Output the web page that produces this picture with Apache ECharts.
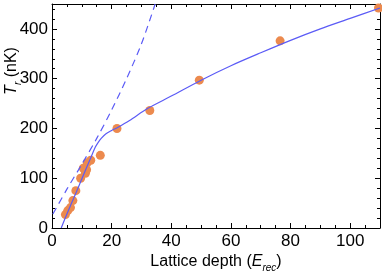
<!DOCTYPE html>
<html>
<head>
<meta charset="utf-8">
<script src="https://cdn.jsdelivr.net/npm/echarts@6/dist/echarts.min.js"></script>
<style>
html,body{margin:0;padding:0;background:#fff;}
#c{width:382px;height:278px;}
</style>
</head>
<body>
<div id="c"></div>
<script>
// Measured data points (lattice depth, temperature)
const depthPts = [4.5, 5.3, 6.2, 7.0, 8.0, 9.6, 10.5, 11.2, 11.6, 11.8, 13.0, 16.2, 21.8, 32.8, 49.4, 76.5, 109.5];
const tempPts  = [27, 35, 41, 55, 75, 100, 120, 110, 117, 131, 136, 146, 200, 236, 297, 376, 442];

// Solid model curve
const solidX = [3.1, 5, 8, 11, 13, 14.5, 15.5, 16.5, 18, 20, 22, 26, 32, 40, 50, 60, 70, 80, 90, 100, 110];
const solidY = [0, 28, 70, 113, 141, 162, 172, 180, 189, 196, 202, 216, 240, 265, 297, 326, 352, 377, 400, 421, 442];

// Dashed model curve
const dashX = [0.3, 5, 10, 15, 20, 25, 30, 34.6];
const dashY = [28, 78, 128, 180, 237, 300, 370, 450];

const xTicks = {min: 0, max: 110, interval: 20};
const yTicks = {min: 0, max: 450, interval: 100};

const zip = (a, b) => a.map((v, i) => [v, b[i]]);
const font = 'Liberation Sans, Arial, Helvetica, sans-serif';

const axLine = {show: true, onZero: false, lineStyle: {color: '#000', width: 1}};
const axTick = {show: true, inside: true, length: 5, lineStyle: {color: '#000', width: 1}};
const subRich = {
  n: {fontSize: 16, fontFamily: font, color: '#000', lineHeight: 22, verticalAlign: 'middle'},
  i: {fontSize: 16, fontStyle: 'italic', fontFamily: font, color: '#000', lineHeight: 22, verticalAlign: 'middle'},
  sub: {fontSize: 10, fontStyle: 'italic', fontFamily: font, color: '#000', verticalAlign: 'bottom', lineHeight: 22}
};

const chart = echarts.init(document.getElementById('c'), null, {renderer: 'canvas'});
chart.setOption({
  animation: false,
  grid: {left: 52, right: 2, top: 4, bottom: 50, containLabel: false, outerBoundsMode: 'none'},
  xAxis: [
    {
      type: 'value', position: 'bottom', min: xTicks.min, max: xTicks.max, interval: xTicks.interval,
      axisLine: axLine, axisTick: axTick, splitLine: {show: false},
      minorTick: {show: true, splitNumber: 4, length: 3, lineStyle: {color: '#000'}},
      axisLabel: {color: '#000', fontSize: 17, fontFamily: font, margin: 5, showMaxLabel: false},
      name: '{n|Lattice depth (}{i|E}{sub|rec}{n|)}',
      nameLocation: 'middle', nameGap: 23, nameMoveOverlap: false,
      nameTextStyle: {color: '#000', fontSize: 16, fontFamily: font, rich: subRich}
    },
    {
      type: 'value', position: 'top', min: xTicks.min, max: xTicks.max, interval: xTicks.interval,
      axisLine: axLine, axisTick: axTick, splitLine: {show: false},
      minorTick: {show: true, splitNumber: 4, length: 3, lineStyle: {color: '#000'}},
      axisLabel: {show: false}
    }
  ],
  yAxis: [
    {
      type: 'value', position: 'left', min: yTicks.min, max: yTicks.max, interval: yTicks.interval,
      axisLine: axLine, axisTick: axTick, splitLine: {show: false},
      minorTick: {show: true, splitNumber: 5, length: 3, lineStyle: {color: '#000'}},
      axisLabel: {color: '#000', fontSize: 17, fontFamily: font, margin: 4, showMaxLabel: false},
      name: '{i|T}{sub|r}{n| (nK)}',
      nameLocation: 'middle', nameGap: 29, nameRotate: 90, nameMoveOverlap: false,
      nameTextStyle: {color: '#000', fontSize: 16, fontFamily: font, rich: subRich, padding: [0, 0, 0, 90]}
    },
    {
      type: 'value', position: 'right', min: yTicks.min, max: yTicks.max, interval: yTicks.interval,
      axisLine: axLine, axisTick: axTick, splitLine: {show: false},
      minorTick: {show: true, splitNumber: 5, length: 3, lineStyle: {color: '#000'}},
      axisLabel: {show: false}
    }
  ],
  series: [
    {
      type: 'scatter', data: zip(depthPts, tempPts), symbol: 'circle', symbolSize: 9,
      itemStyle: {color: '#EC8A4E', opacity: 1}, z: 2, clip: false
    },
    {
      type: 'line', data: zip(solidX, solidY), smooth: 0.3, showSymbol: false, symbol: 'none',
      lineStyle: {color: '#5B5BF6', width: 1.2}, z: 3
    },
    {
      type: 'line', data: zip(dashX, dashY), smooth: 0.3, showSymbol: false, symbol: 'none',
      lineStyle: {color: '#5B5BF6', width: 1.2, type: [7, 5]}, z: 3
    }
  ]
});
</script>
</body>
</html>
